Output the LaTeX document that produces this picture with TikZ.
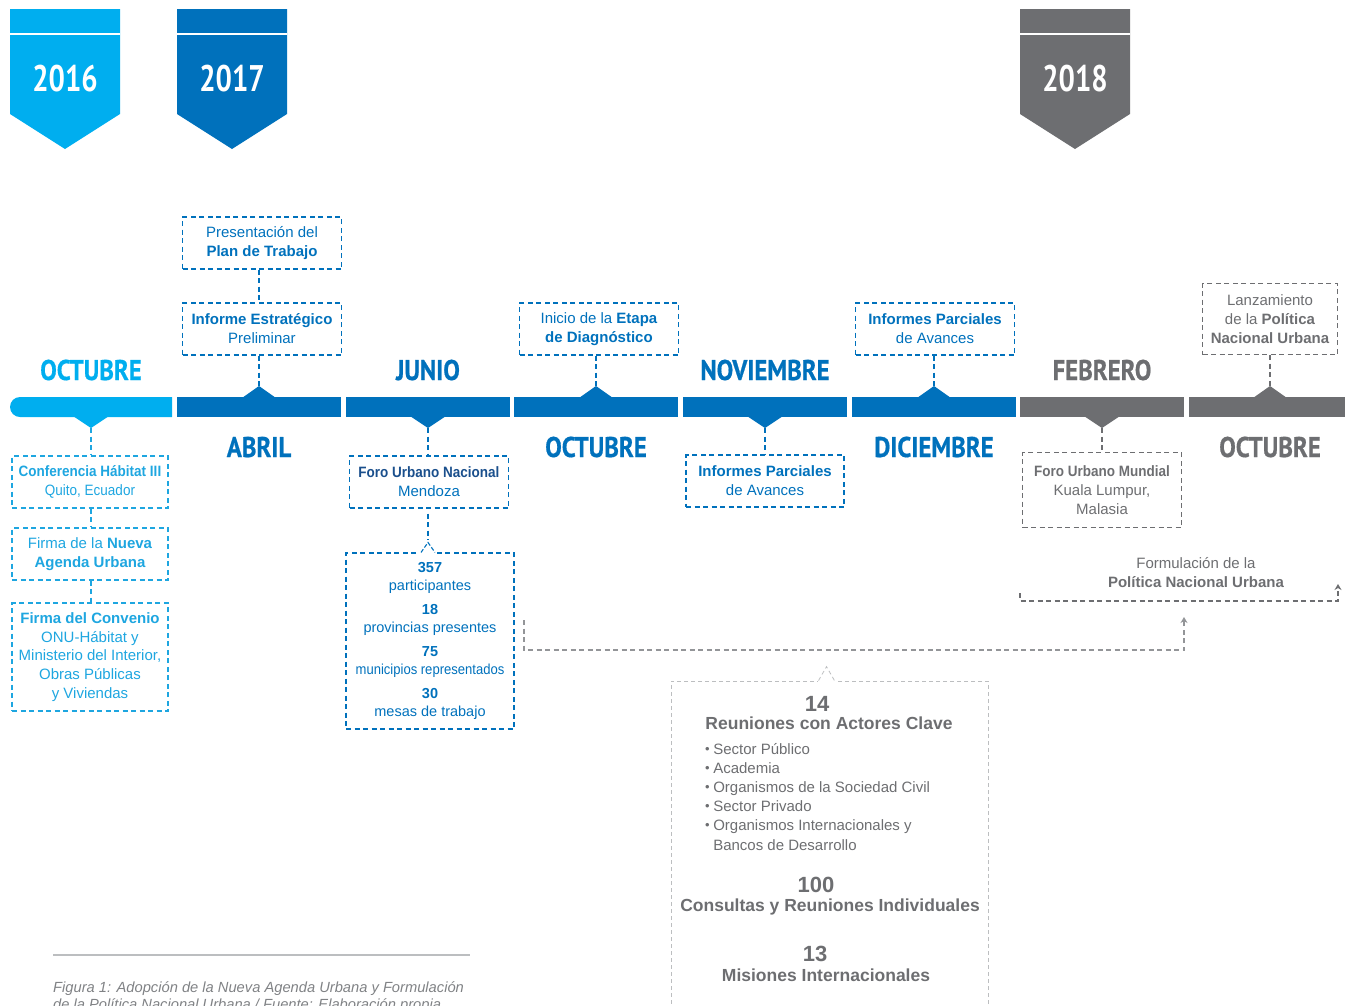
\documentclass[tikz,border=0pt]{standalone}
\usepackage{fontspec}
\setmainfont{Liberation Sans}
\newfontfamily\condfont[FakeStretch=0.78]{PT Sans}
\newfontfamily\monthfont[FakeStretch=0.87,FakeBold=0.6]{PT Sans}
\newfontfamily\narrowfont[FakeStretch=0.9]{Liberation Sans}
\usetikzlibrary{positioning,calc,arrows.meta}
\definecolor{lblue}{HTML}{00AEEF}
\definecolor{dblue}{HTML}{0071BC}
\definecolor{navy}{HTML}{1A4F8C}
\definecolor{lbtxt}{HTML}{1EA6E0}
\definecolor{ggray}{HTML}{6D6E71}
\definecolor{mgray}{HTML}{939598}
\definecolor{pgray}{HTML}{BCBEC0}
\definecolor{capgray}{HTML}{808285}
\newcommand{\dotitem}{\raisebox{1pt}{\fontsize{13}{13}\selectfont\textbullet}\hspace{3.5pt}}
\begin{document}
\begin{tikzpicture}[x=1pt,y=-1pt,
    yearlbl/.style={font=\condfont\bfseries\fontsize{37}{40}\selectfont, text=white, anchor=base, inner sep=0pt},
    monthlbl/.style={font=\monthfont\bfseries\fontsize{28.5}{30}\selectfont, anchor=base, inner sep=0pt},
    segbar/.style={minimum width=164pt, minimum height=20pt, inner sep=0pt},
    evbox/.style={draw, dash pattern=on 5pt off 3.5pt, line width=1.1pt, minimum width=159pt,
      minimum height=52pt, align=center, inner sep=2pt, font=\fontsize{15}{19}\selectfont},
    dlink/.style={dash pattern=on 5pt off 3.5pt, line width=1.1pt},
    glink/.style={mgray, dash pattern=on 5pt off 3.5pt, line width=1.3pt},
    bignum/.style={font=\bfseries\fontsize{22}{24}\selectfont, text=ggray, anchor=base, inner sep=0pt},
    biglbl/.style={font=\bfseries\fontsize{17.5}{20}\selectfont, text=ggray, anchor=base, inner sep=0pt}]
  \useasboundingbox (0,0) rectangle (1345,1005);

  % years
  \fill[lblue] (10,9) -- (120,9) -- (120,114) -- (65,149) -- (10,114) -- cycle;
  \fill[dblue] (177,9) -- (287,9) -- (287,114) -- (232,149) -- (177,114) -- cycle;
  \fill[ggray] (1020,9) -- (1130,9) -- (1130,114) -- (1075,149) -- (1020,114) -- cycle;
  \draw[white, line width=1.2pt] (10,34) -- (120,34) (177,34) -- (287,34) (1020,34) -- (1130,34);
  \node[yearlbl] (y2016) at (65,91) {2016};
  \node[yearlbl] (y2017) at (232,91) {2017};
  \node[yearlbl] (y2018) at (1075,91) {2018};

  % timeline
  \fill[lblue] (172,397) -- (20,397) arc[start angle=270, end angle=90, radius=10] -- (172,417) -- cycle;
  \node[segbar, fill=dblue] (s2) at (259,407) {};
  \node[segbar, fill=dblue] (s3) at (428,407) {};
  \node[segbar, fill=dblue] (s4) at (596,407) {};
  \node[segbar, fill=dblue] (s5) at (765,407) {};
  \node[segbar, fill=dblue] (s6) at (934,407) {};
  \node[segbar, fill=ggray] (s7) at (1102,407) {};
  \node[segbar, fill=ggray] (s8) at (1271,407) {};
  \fill[lblue] (73,416) -- (91,428) coordinate (t1) -- (109,416) -- cycle;
  \fill[dblue] (242,398) -- (259,386) coordinate (t2) -- (276,398) -- cycle;
  \fill[dblue] (410,416) -- (428,428) coordinate (t3) -- (446,416) -- cycle;
  \fill[dblue] (579,398) -- (596,386) coordinate (t4) -- (613,398) -- cycle;
  \fill[dblue] (747,416) -- (765,428) coordinate (t5) -- (783,416) -- cycle;
  \fill[dblue] (917,398) -- (934,386) coordinate (t6) -- (951,398) -- cycle;
  \fill[ggray] (1084,416) -- (1102,428) coordinate (t7) -- (1120,416) -- cycle;
  \fill[ggray] (1253,398) -- (1270,386) coordinate (t8) -- (1287,398) -- cycle;

  % months
  \node[monthlbl, text=lblue] (m1) at (91,380) {OCTUBRE};
  \node[monthlbl, text=dblue] (m2) at (259,457) {ABRIL};
  \node[monthlbl, text=dblue] (m3) at (428,380) {JUNIO};
  \node[monthlbl, text=dblue] (m4) at (596,457) {OCTUBRE};
  \node[monthlbl, text=dblue] (m5) at (765,380) {NOVIEMBRE};
  \node[monthlbl, text=dblue] (m6) at (934,457) {DICIEMBRE};
  \node[monthlbl, text=ggray] (m7) at (1102,380) {FEBRERO};
  \node[monthlbl, text=ggray] (m8) at (1270,457) {OCTUBRE};

  % events above
  \node[evbox, draw=dblue, text=dblue] (pres) at (262,243) {Presentación del\\ \textbf{Plan de Trabajo}};
  \node[evbox, draw=dblue, text=dblue] (infe) at (262,329) {\textbf{Informe Estratégico}\\ Preliminar};
  \node[evbox, draw=dblue, text=dblue] (inic) at (599,329) {Inicio de la \textbf{Etapa}\\ \textbf{de Diagnóstico}};
  \node[evbox, draw=dblue, text=dblue] (parc1) at (935,329) {\textbf{Informes Parciales}\\ de Avances};
  \node[evbox, draw=ggray, text=ggray, minimum width=135pt, minimum height=71pt] (lanz) at (1270,319)
    {Lanzamiento\\ de la \textbf{Política}\\ \textbf{Nacional Urbana}};

  % events below
  \node[evbox, draw=lbtxt, text=lbtxt, minimum width=156pt] (conf) at (90,482)
    {{\narrowfont\bfseries Conferencia Hábitat III}\\ {\narrowfont Quito, Ecuador}};
  \node[evbox, draw=lbtxt, text=lbtxt, minimum width=156pt] (firm1) at (90,554) {Firma de la \textbf{Nueva}\\ \textbf{Agenda Urbana}};
  \node[evbox, draw=lbtxt, text=lbtxt, minimum width=156pt, minimum height=108pt, font=\fontsize{15}{18.8}\selectfont] (firm2) at (90,657)
    {\textbf{Firma del Convenio}\\ ONU-Hábitat y\\ Ministerio del Interior,\\ Obras Públicas\\ y Viviendas};
  \node[evbox, draw=dblue, text=dblue] (foro) at (429,482)
    {{\narrowfont\bfseries\color{navy} Foro Urbano Nacional}\\ Mendoza};
  \node[evbox, draw=dblue, text=dblue, minimum width=168pt, minimum height=176pt, font=\fontsize{14.5}{18}\selectfont] (num) at (430,641)
    {\textbf{357}\\ participantes\\[6pt] \textbf{18}\\ provincias presentes\\[6pt] \textbf{75}\\ {\narrowfont municipios representados}\\[6pt] \textbf{30}\\ mesas de trabajo};
  \node[evbox, draw=dblue, text=dblue, minimum width=158pt] (parc2) at (765,481) {\textbf{Informes Parciales}\\ de Avances};
  \node[evbox, draw=ggray, text=ggray, minimum height=75pt] (forom) at (1102,490)
    {{\narrowfont\bfseries Foro Urbano Mundial}\\ Kuala Lumpur,\\ Malasia};

  % connectors
  \draw[dlink, dblue] (pres.south -| t2) -- (infe.north -| t2);
  \draw[dlink, dblue] (infe.south -| t2) -- (t2);
  \draw[dlink, dblue] (inic.south -| t4) -- (t4);
  \draw[dlink, dblue] (parc1.south -| t6) -- (t6);
  \draw[dlink, ggray] (lanz.south -| t8) -- (t8);
  \draw[dlink, lbtxt] (t1) -- (conf.north -| t1);
  \draw[dlink, lbtxt] (conf.south -| t1) -- (firm1.north -| t1);
  \draw[dlink, lbtxt] (firm1.south -| t1) -- (firm2.north -| t1);
  \draw[dlink, dblue] (t3) -- (foro.north -| t3);
  \draw[dlink, dblue] (t5) -- (parc2.north -| t5);
  \draw[dlink, ggray] (t7) -- (forom.north -| t7);
  \coordinate (numtip) at ($(num.north)+(-2,-10)$);
  \draw[dlink, dblue] ($(foro.south -| numtip)+(0,5)$) -- ($(numtip)+(0,-3)$);
  \fill[white] ($(numtip)+(-8,8)$) rectangle ($(numtip)+(8,12)$);
  \draw[dlink, dblue, dash pattern=on 4pt off 2pt] ($(numtip)+(-7,10)$) -- (numtip) -- ($(numtip)+(7,10)$);

  % reuniones
  \node[draw=pgray, dash pattern=on 4pt off 3pt, line width=0.8pt, minimum width=317pt, minimum height=335pt, inner sep=0pt] (reun) at (829.5,848.5) {};
  \coordinate (reuntip) at ($(reun.north)+(-3,-14)$);
  \fill[white] ($(reuntip)+(-9,12)$) rectangle ($(reuntip)+(9,16)$);
  \draw[pgray, line width=0.8pt, dash pattern=on 4pt off 3pt] ($(reuntip)+(-8,14)$) -- (reuntip) -- ($(reuntip)+(8,14)$);
  \node[bignum] (n14) at (817,711) {14};
  \node[biglbl] (l14) at (829,729) {Reuniones con Actores Clave};
  \node[anchor=base west, inner sep=0pt, align=left, text=ggray, font=\fontsize{15}{19.2}\selectfont] (items) at (705,850)
    {\dotitem Sector Público\\ \dotitem Academia\\ \dotitem Organismos de la Sociedad Civil\\ \dotitem Sector Privado\\
     \dotitem Organismos Internacionales y\\ \phantom{\dotitem}Bancos de Desarrollo};
  \node[bignum] (n100) at (816,892) {100};
  \node[biglbl] (l100) at (830,911) {Consultas y Reuniones Individuales};
  \node[bignum] (n13) at (815,961) {13};
  \node[biglbl] (l13) at (826,981) {Misiones Internacionales};

  % formulacion
  \coordinate (fs) at (524,620);
  \coordinate (fe) at (1184,617);
  \draw[glink, -{Stealth[length=6pt,width=7pt]}] (fs) -- ++(0,30) -| (fe);
  \node[text=ggray, align=center, font=\fontsize{15}{19}\selectfont] (formu) at (1196,573)
    {Formulación de la\\ \textbf{Política Nacional Urbana}};
  \coordinate (bl) at (1020,593);
  \coordinate (br) at (1338,584);
  \draw[glink, ggray, -{Stealth[length=6pt,width=7pt]}] (bl) -- ++(0,8) -| (br);

  % caption
  \draw[pgray, line width=1.5pt] (53,955) -- (470,955);
  \node[anchor=base west, inner sep=0pt, align=left, text=capgray, font=\itshape\fontsize{14.7}{17}\selectfont] (cap) at (53,1009)
    {Figura 1: Adopción de la Nueva Agenda Urbana y Formulación\\ de la Política Nacional Urbana / Fuente: Elaboración propia};
\end{tikzpicture}
\end{document}
